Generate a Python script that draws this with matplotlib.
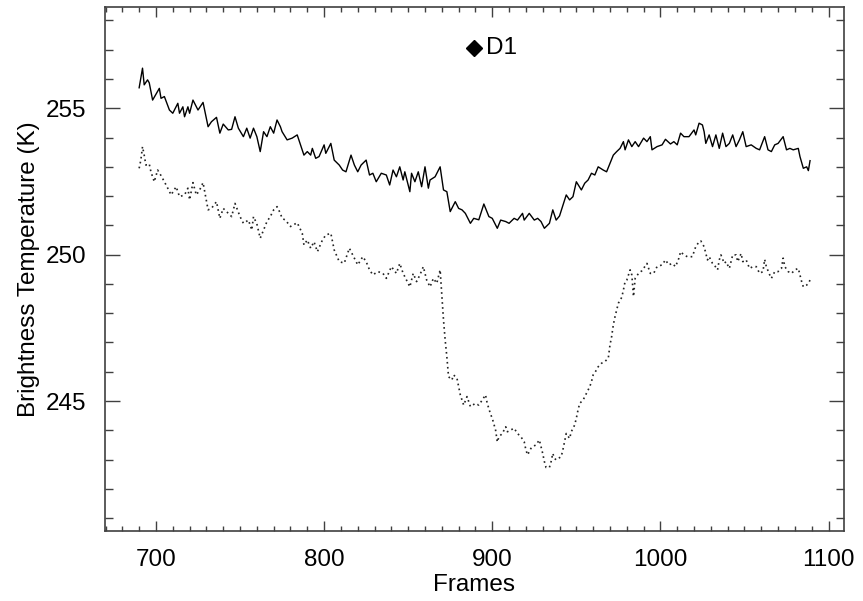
import matplotlib
matplotlib.use("Agg")
import matplotlib.pyplot as plt
from matplotlib.ticker import MultipleLocator

plt.rcParams['font.family'] = ['Liberation Sans', 'DejaVu Sans']

# Solid series (frame, brightness temperature)
solid_frames = [690, 692, 693, 695, 696, 698, 702, 703, 705, 708, 710, 713, 714, 716, 717, 719, 720, 722, 725, 728,
                731, 733, 736, 738, 740, 743, 745, 747, 749, 752, 754, 756, 758, 760, 762, 764, 766, 768, 770, 772,
                774, 775, 778, 781, 784, 788, 790, 792, 793, 795, 797, 800, 801, 804, 806, 809, 811, 813, 816, 818,
                820, 822, 825, 827, 829, 831, 834, 837, 839, 841, 843, 845, 847, 848, 851, 852, 854, 856, 858, 860,
                862, 863, 866, 869, 871, 873, 875, 878, 880, 882, 884, 887, 889, 892, 895, 898, 900, 903, 905, 908,
                910, 913, 915, 918, 919, 922, 925, 927, 929, 931, 934, 936, 938, 940, 944, 946, 948, 950, 953, 955,
                957, 959, 961, 963, 966, 968, 970, 972, 974, 976, 978, 979, 981, 983, 985, 987, 990, 992, 994, 995,
                998, 1001, 1003, 1006, 1008, 1010, 1012, 1014, 1017, 1020, 1021, 1023, 1025, 1026, 1027, 1029, 1031, 1033, 1035, 1037,
                1039, 1041, 1043, 1045, 1047, 1049, 1051, 1054, 1057, 1059, 1062, 1064, 1066, 1068, 1070, 1073, 1075, 1077, 1079, 1082,
                1083, 1085, 1087, 1088, 1089]
solid_values = [255.70, 256.37, 255.80, 255.97, 255.87, 255.28, 255.68, 255.34, 255.40, 254.94, 254.83, 255.17, 254.83, 255.05, 254.71, 255.05, 254.83, 255.28, 254.94, 255.20,
                254.37, 254.54, 254.69, 254.15, 254.46, 254.26, 254.28, 254.71, 254.32, 254.03, 254.32, 253.98, 254.32, 254.03, 253.52, 254.20, 254.03, 254.37, 254.15, 254.60,
                254.37, 254.20, 253.92, 253.98, 254.09, 253.40, 253.52, 253.40, 253.63, 253.29, 253.35, 253.75, 253.46, 253.80, 253.23, 253.06, 252.89, 252.83, 253.40, 253.06,
                252.83, 253.06, 253.23, 252.72, 252.78, 252.49, 252.78, 252.72, 252.38, 252.89, 252.66, 253.00, 252.55, 252.83, 252.15, 252.78, 252.49, 252.83, 252.32, 253.00,
                252.27, 252.55, 252.66, 253.00, 252.21, 252.15, 251.47, 251.81, 251.58, 251.53, 251.41, 251.07, 251.24, 251.19, 251.73, 251.30, 251.24, 250.90, 251.18, 251.13,
                251.07, 251.24, 251.18, 251.41, 251.18, 251.41, 251.18, 251.24, 251.13, 250.90, 251.07, 251.53, 251.18, 251.32, 252.04, 251.87, 251.98, 252.49, 252.21, 252.44,
                252.55, 252.78, 252.72, 253.00, 252.89, 252.83, 253.12, 253.40, 253.52, 253.63, 253.86, 253.58, 253.92, 253.69, 253.86, 253.69, 253.98, 253.86, 254.03, 253.58,
                253.69, 253.75, 253.94, 253.78, 253.86, 253.75, 254.15, 254.03, 254.03, 254.26, 254.09, 254.49, 254.43, 254.20, 253.80, 254.09, 253.69, 254.09, 253.63, 254.15,
                253.69, 253.80, 254.09, 253.69, 253.92, 254.20, 253.69, 253.75, 253.63, 253.58, 254.03, 253.58, 253.52, 253.75, 253.80, 254.03, 253.58, 253.63, 253.58, 253.63,
                253.35, 252.95, 253.00, 252.87, 253.21]

# Dotted series (frame, brightness temperature)
dotted_frames = [690, 691, 692, 693, 694, 696, 697, 699, 701, 703, 705, 707, 709, 712, 714, 717, 719, 720, 722, 724,
                 726, 728, 731, 733, 736, 738, 740, 743, 745, 747, 750, 752, 755, 757, 758, 760, 762, 764, 766, 768,
                 770, 772, 774, 775, 777, 780, 784, 787, 788, 790, 792, 794, 796, 799, 801, 804, 806, 809, 812, 815,
                 818, 820, 823, 825, 827, 829, 832, 835, 837, 840, 843, 845, 847, 849, 851, 853, 855, 857, 859, 861,
                 863, 865, 867, 869, 870, 871, 872, 873, 874, 876, 877, 879, 881, 883, 885, 887, 890, 892, 894, 896,
                 897, 899, 900, 902, 903, 904, 906, 908, 909, 911, 913, 915, 917, 919, 920, 921, 923, 924, 926, 928,
                 929, 930, 931, 932, 934, 935, 936, 937, 938, 941, 942, 943, 944, 946, 947, 949, 950, 951, 952, 954,
                 956, 958, 959, 960, 962, 963, 965, 967, 969, 970, 971, 972, 973, 974, 975, 977, 978, 979, 980, 982,
                 983, 984, 985, 987, 989, 990, 992, 994, 996, 998, 1001, 1003, 1005, 1007, 1009, 1011, 1012, 1014, 1016, 1019,
                 1020, 1021, 1023, 1024, 1026, 1027, 1028, 1029, 1031, 1032, 1034, 1035, 1036, 1038, 1039, 1041, 1043, 1045, 1046, 1048,
                 1049, 1051, 1053, 1055, 1057, 1059, 1061, 1062, 1063, 1065, 1066, 1068, 1070, 1072, 1073, 1074, 1076, 1078, 1080, 1082,
                 1083, 1084, 1085, 1087, 1088, 1089]
dotted_values = [252.95, 253.23, 253.69, 253.40, 253.06, 253.10, 252.83, 252.49, 252.89, 252.70, 252.49, 252.27, 252.04, 252.32, 251.98, 252.04, 252.27, 251.87, 252.46, 252.04,
                 252.21, 252.46, 251.53, 251.58, 251.81, 251.24, 251.58, 251.41, 251.30, 251.75, 251.30, 251.07, 251.18, 250.84, 251.30, 251.05, 250.56, 250.84, 251.13, 251.30,
                 251.53, 251.64, 251.41, 251.24, 251.18, 250.96, 251.09, 250.73, 250.33, 250.50, 250.22, 250.44, 250.10, 250.50, 250.67, 250.73, 250.16, 249.76, 249.71, 250.22,
                 249.88, 249.65, 249.93, 249.76, 249.48, 249.31, 249.42, 249.36, 249.19, 249.59, 249.36, 249.70, 249.36, 249.13, 248.90, 249.36, 249.08, 249.31, 249.59, 249.13,
                 248.90, 249.19, 249.02, 249.48, 248.60, 247.77, 247.08, 246.51, 245.83, 245.72, 245.89, 245.78, 245.21, 244.86, 245.15, 244.81, 244.92, 244.86, 245.03, 245.21,
                 244.92, 244.55, 244.41, 244.00, 243.60, 243.78, 243.89, 244.12, 243.95, 244.01, 244.07, 243.89, 243.78, 243.61, 243.33, 243.16, 243.38, 243.44, 243.50, 243.67,
                 243.44, 243.21, 242.93, 242.73, 242.73, 242.93, 243.21, 243.04, 242.99, 243.10, 243.33, 243.61, 243.89, 243.72, 243.95, 244.18, 244.41, 244.69, 244.92, 245.03,
                 245.26, 245.49, 245.66, 245.89, 246.06, 246.17, 246.29, 246.35, 246.46, 246.91, 247.20, 247.60, 247.88, 248.11, 248.34, 248.54, 248.79, 249.08, 249.13, 249.48,
                 249.31, 248.57, 249.19, 249.36, 249.45, 249.53, 249.70, 249.36, 249.36, 249.59, 249.65, 249.82, 249.65, 249.70, 249.59, 249.88, 250.10, 249.99, 249.93, 249.93,
                 250.10, 250.27, 250.44, 250.47, 250.27, 250.05, 249.82, 249.93, 249.70, 249.65, 249.48, 249.82, 249.99, 249.70, 249.76, 249.53, 249.99, 249.99, 249.76, 250.04,
                 249.76, 249.82, 249.53, 249.59, 249.59, 249.36, 249.42, 249.84, 249.59, 249.31, 249.19, 249.42, 249.42, 249.53, 249.88, 249.59, 249.42, 249.36, 249.48, 249.53,
                 249.31, 249.08, 248.90, 248.96, 249.02, 249.13]

label_text = "D1"
label_frame = 889
label_value = 257.06

xlim = (669.5, 1109.2)
ylim = (240.56, 258.45)
x_major = [700, 800, 900, 1000, 1100]
y_major = [245, 250, 255]

fig = plt.figure(figsize=(8.63, 6.01), dpi=100)
ax = fig.add_axes([0.1213, 0.1165, 0.978 - 0.1213, 0.9879 - 0.1165])

ax.plot(solid_frames, solid_values, color='black', lw=1.0)
ax.plot(dotted_frames, dotted_values, color='#222222', lw=1.2, dashes=(1, 2))

ax.plot([label_frame], [label_value], marker='D', color='black', ms=8.5, ls='none')
ax.text(label_frame + 7, label_value, label_text, fontsize=17.5, va='center', ha='left')

ax.set_xlim(*xlim)
ax.set_ylim(*ylim)
ax.set_xticks(x_major)
ax.set_yticks(y_major)
ax.xaxis.set_minor_locator(MultipleLocator(10))
ax.yaxis.set_minor_locator(MultipleLocator(1))

ax.tick_params(axis='both', which='both', direction='in', top=True, right=True,
               color='#404040', width=1.0, labelsize=17.5)
ax.tick_params(axis='x', which='major', length=7, pad=13)
ax.tick_params(axis='x', which='minor', length=3.7)
ax.tick_params(axis='y', which='major', length=11, pad=13)
ax.tick_params(axis='y', which='minor', length=5.5)
for s in ax.spines.values():
    s.set_color('#404040')
    s.set_linewidth(1.2)

ax.set_xlabel('Frames', fontsize=17.5, labelpad=2)
ax.set_ylabel('Brightness Temperature (K)', fontsize=17.5, labelpad=4)

fig.savefig('out.png', dpi=100)
